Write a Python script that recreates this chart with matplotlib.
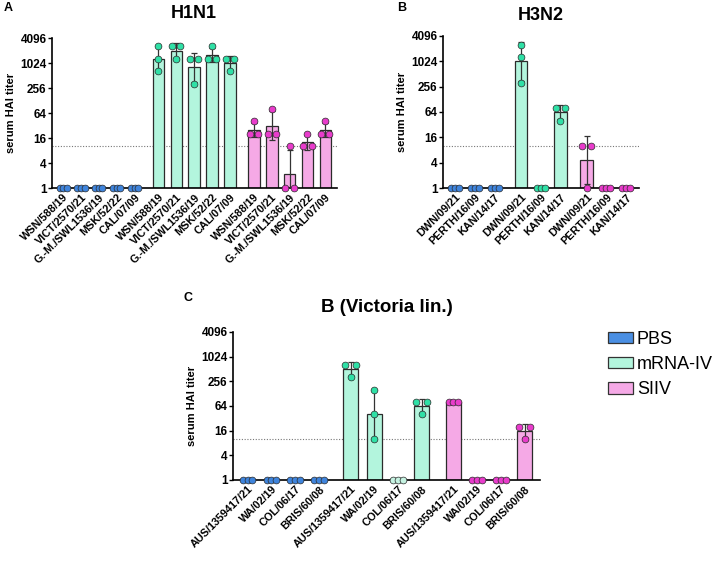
import numpy as np
import matplotlib
matplotlib.use("Agg")
from matplotlib import pyplot as plt
from matplotlib.patches import Patch

plt.rcParams["font.family"] = ["Liberation Sans", "DejaVu Sans"]

groups = ["PBS", "mRNA-IV", "SIIV"]

h1n1_strains = ["WSN/588/19", "VICT/2570/21", "G.-M./SWL1536/19", "MSK/52/22", "CAL/07/09"]
h1n1_pbs = [[1, 1, 1], [1, 1, 1], [1, 1, 1], [1, 1, 1], [1, 1, 1]]
h1n1_mrna = [[2560, 1280, 640], [2560, 2560, 1280], [1280, 1280, 320], [2560, 1280, 1280], [1280, 1280, 640]]
h1n1_siiv = [[40, 20, 20], [80, 20, 20], [10, 1, 1], [20, 10, 10], [40, 20, 20]]

h3n2_strains = ["DWN/09/21", "PERTH/16/09", "KAN/14/17"]
h3n2_pbs = [[1, 1, 1], [1, 1, 1], [1, 1, 1]]
h3n2_mrna = [[2560, 1280, 320], [1, 1, 1], [80, 80, 40]]
h3n2_siiv = [[10, 10, 1], [1, 1, 1], [1, 1, 1]]

bvic_strains = ["AUS/1359417/21", "WA/02/19", "COL/06/17", "BRIS/60/08"]
bvic_pbs = [[1, 1, 1], [1, 1, 1], [1, 1, 1], [1, 1, 1]]
bvic_mrna = [[640, 640, 320], [160, 40, 10], [1, 1, 1], [80, 80, 40]]
bvic_siiv = [[80, 80, 80], [1, 1, 1], [1, 1, 1], [20, 20, 10]]

yticks = [1, 4, 16, 64, 256, 1024, 4096]
lod = 10

bar_colors = {"PBS": "#4a8fe3", "mRNA-IV": "#b3f5dd", "SIIV": "#f5a9e6"}
dot_colors = {"PBS": "#3f84dc", "mRNA-IV": "#2fe0a6", "SIIV": "#e83ccb"}
pale_dot = "#c6f3e2"


def dot_offsets(values):
    # spread equal values sideways like a scatter dot plot
    offs = np.zeros(len(values))
    vals = np.array(values)
    for v in np.unique(vals):
        idx = np.where(vals == v)[0]
        n = len(idx)
        if n == 2:
            offs[idx] = [-0.23, 0.23]
        elif n == 3:
            offs[idx] = [-0.2, 0.0, 0.2]
    return offs


def draw_panel(ax, strains, data, pale=None):
    n = len(strains)
    xs, labels = [], []
    for g, (name, vals) in enumerate(zip(groups, data)):
        for i, v in enumerate(vals):
            x = g * (n + 0.33) + i
            xs.append(x)
            labels.append(strains[i])
            logv = np.log2(v)
            gm = 2 ** logv.mean()
            sd = logv.std(ddof=1)
            ax.bar(x, gm - 1, bottom=1, width=0.65, color=bar_colors[name],
                   edgecolor="#2b2b2b", linewidth=0.9, zorder=2)
            if sd > 0:
                ax.errorbar(x, gm, yerr=[[gm - 2 ** (logv.mean() - sd)], [2 ** (logv.mean() + sd) - gm]],
                            color="#333333", lw=0.9, capsize=2.5, capthick=0.9, zorder=3)
            fc = dot_colors[name]
            if pale is not None and (g, i) in pale:
                fc = pale_dot
            ax.scatter(x + dot_offsets(v), v, s=24, color=fc, edgecolor="#2a2a2a",
                       linewidth=0.5, zorder=5, clip_on=False)
    ax.set_yscale("log", base=2)
    ax.set_ylim(1, 4096)
    ax.set_yticks(yticks)
    ax.set_yticklabels([str(t) for t in yticks], fontsize=8.5, fontweight="bold")
    ax.minorticks_off()
    ax.set_xticks(xs)
    ax.set_xticklabels(labels, rotation=45, ha="right", rotation_mode="anchor",
                       fontsize=7.8, fontweight="bold")
    ax.tick_params(axis="x", length=0, pad=3)
    ax.tick_params(axis="y", length=3, width=1, pad=1)
    ax.axhline(lod, color="#777777", lw=0.8, ls=(0, (1, 1.5)), zorder=1)
    for s in ["top", "right"]:
        ax.spines[s].set_visible(False)
    for s in ["left", "bottom"]:
        ax.spines[s].set_linewidth(1.2)
    ax.set_ylabel("serum HAI titer", fontsize=8, fontweight="bold", labelpad=3)
    ax.set_xlim(xs[0] - 0.62, xs[-1] + 0.65)


W, H = 715, 561
fig = plt.figure(figsize=(W / 100, H / 100), dpi=100)


def add_axes(l, r, t, b):
    return fig.add_axes([l / W, 1 - b / H, (r - l) / W, (b - t) / H])


ax_a = add_axes(52, 337, 38, 188)
ax_b = add_axes(443, 639, 36, 188)
ax_c = add_axes(233, 540, 332, 480)

draw_panel(ax_a, h1n1_strains, [h1n1_pbs, h1n1_mrna, h1n1_siiv])
draw_panel(ax_b, h3n2_strains, [h3n2_pbs, h3n2_mrna, h3n2_siiv])
draw_panel(ax_c, bvic_strains, [bvic_pbs, bvic_mrna, bvic_siiv], pale={(1, 2)})

fig.text(194 / W, 1 - 13 / H, "H1N1", ha="center", va="center", fontsize=13, fontweight="bold")
fig.text(541 / W, 1 - 15 / H, "H3N2", ha="center", va="center", fontsize=13, fontweight="bold")
fig.text(387 / W, 1 - 307 / H, "B (Victoria lin.)", ha="center", va="center", fontsize=13.5, fontweight="bold")

fig.text(4 / W, 1 - 8 / H, "A", ha="left", va="center", fontsize=9, fontweight="bold")
fig.text(397 / W, 1 - 8 / H, "B", ha="left", va="center", fontsize=9, fontweight="bold")
fig.text(183 / W, 1 - 298 / H, "C", ha="left", va="center", fontsize=9, fontweight="bold")

handles = [Patch(facecolor=bar_colors[g], edgecolor="#333333", linewidth=0.9) for g in groups]
fig.legend(handles, groups, loc="upper left", bbox_to_anchor=(608 / W, 1 - 331 / H),
           frameon=False, fontsize=13, handlelength=1.39, handleheight=0.6,
           handletextpad=0.2, labelspacing=0.45, borderpad=0, borderaxespad=0)

fig.savefig("out.png", dpi=100)
